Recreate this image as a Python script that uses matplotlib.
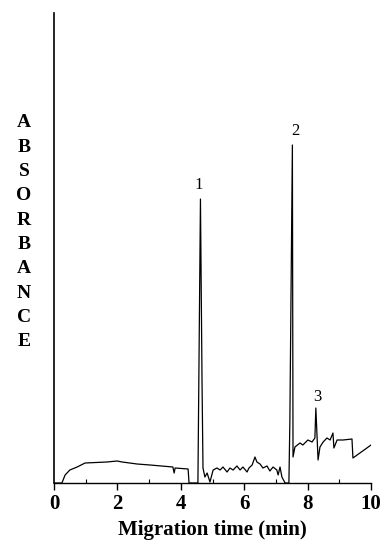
import matplotlib
matplotlib.use("Agg")
import matplotlib.pyplot as plt
from matplotlib.ticker import MultipleLocator

# Migration time (min) and absorbance (arbitrary units)
time_min = [0.0, 0.25, 0.35, 0.50, 0.73, 0.98, 1.67, 1.99, 2.15, 2.62, 3.03, 3.75, 3.79, 3.82,
            4.23, 4.26, 4.54, 4.62, 4.67, 4.70, 4.76, 4.83, 4.92, 5.02, 5.14, 5.24, 5.33,
            5.46, 5.55, 5.65, 5.77, 5.87, 5.96, 6.09, 6.15, 6.25, 6.34, 6.40, 6.50, 6.59,
            6.72, 6.81, 6.91, 7.03, 7.07, 7.13, 7.19, 7.29, 7.41, 7.44, 7.52, 7.54, 7.60,
            7.76, 7.85, 8.01, 8.14, 8.23, 8.26, 8.33, 8.39, 8.49, 8.61, 8.71, 8.80, 8.83,
            8.93, 9.12, 9.40, 9.43, 9.65, 9.87, 10.0]
absorbance = [0, 0, 8, 13, 16, 20, 21, 22, 21, 19, 18, 16, 10, 15,
              14, 0, 0, 284, 100, 15, 6, 10, 1, 13, 15, 13, 16,
              11, 15, 13, 17, 13, 16, 11, 15, 18, 26, 21, 19, 15,
              17, 12, 16, 13, 8, 16, 6, 0, 0, 60, 338, 26, 36,
              40, 38, 43, 41, 45, 75, 23, 36, 41, 45, 43, 50, 35,
              43, 43, 44, 25, 30, 35, 38]

peak_labels = ["1", "2", "3"]
peak_times = [4.62, 7.52, 8.26]
peak_heights = [284, 338, 75]

x_ticks = [0, 2, 4, 6, 8, 10]
ylabel_letters = list("ABSORBANCE")

plt.rcParams['font.family'] = ['Liberation Serif', 'DejaVu Serif']

fig = plt.figure(figsize=(3.91, 5.47), dpi=100)
ax = fig.add_axes([54/391, 64/547, 317/391, 470/547])

ax.plot(time_min, absorbance, color='black', lw=0.9)

offsets = [(-1, 4), (2, 4), (1, 2)]
for lab, t, h, off in zip(peak_labels, peak_times, peak_heights, offsets):
    ax.annotate(lab, (t, h), xytext=off, textcoords='offset points',
                ha='center', va='bottom', fontsize=12)

ax.set_xlim(0, 10)
ax.set_ylim(0, 470)
ax.set_xticks(x_ticks)
ax.set_xticklabels([str(v) for v in x_ticks], fontsize=15, fontweight='bold')
ax.xaxis.set_minor_locator(MultipleLocator(1))
ax.tick_params(axis='x', which='major', direction='out', length=5, width=1, pad=3)
ax.tick_params(axis='x', which='minor', direction='in', length=3, width=0.8)
ax.set_yticks([])
ax.spines['top'].set_visible(False)
ax.spines['right'].set_visible(False)
ax.spines['left'].set_linewidth(1.2)
ax.spines['bottom'].set_linewidth(1.0)
ax.set_xlabel("Migration time (min)", fontsize=15, fontweight='bold', labelpad=4)

for i, ch in enumerate(ylabel_letters):
    fig.text(24/391, 1 - (123 + i*24.3)/547, ch, ha='center', va='center',
             fontsize=14, fontweight='bold')

fig.savefig("out.png", dpi=100)
